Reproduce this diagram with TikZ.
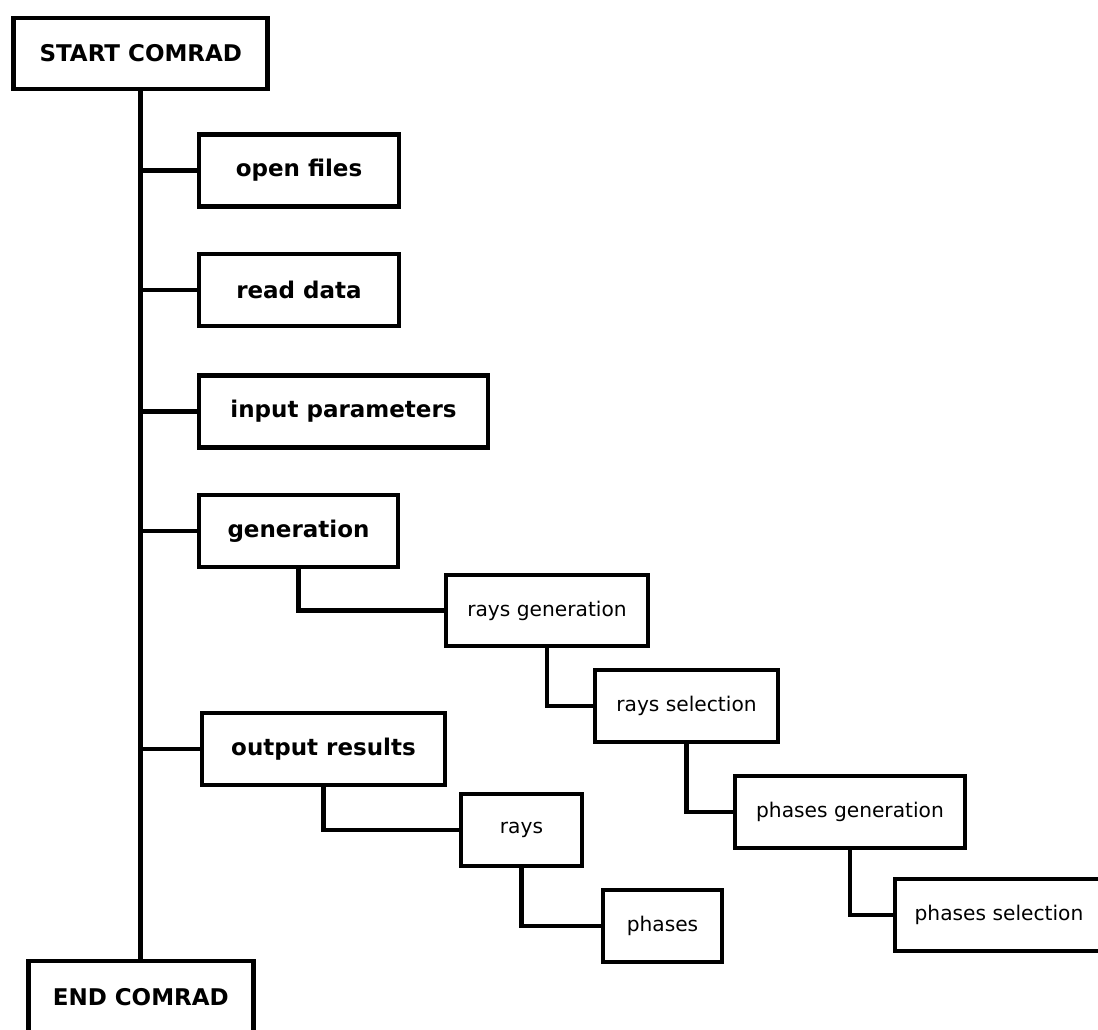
\documentclass[tikz,border=0pt]{standalone}
\usepackage{fontspec}
\setmainfont{DejaVu Sans}
\begin{document}
\begin{tikzpicture}[x=1pt,y=-1pt,
  box/.style={draw=black,line width=4.7pt,fill=white,rectangle,inner sep=0pt,
    minimum height=72pt},
  mainbox/.style={box,font=\bfseries\fontsize{23}{27}\selectfont},
  subbox/.style={box,font=\fontsize{20.2}{24}\selectfont},
  link/.style={draw=black,line width=4.7pt}]
\useasboundingbox (0,0) rectangle (1098,1030);
\fill[white] (0,0) rectangle (1098,1030);
% main boxes
\node[mainbox,minimum width=254pt,minimum height=71pt] (start) at (140.8,53.5) {START COMRAD};
\node[mainbox,minimum width=200pt] (open) at (299,170.5) {open files};
\node[mainbox,minimum width=200pt] (read) at (299,290) {read data};
\node[mainbox,minimum width=289pt] (input) at (343.5,411.5) {input parameters};
\node[mainbox,minimum width=199pt] (gen) at (298.5,531) {generation};
\node[mainbox,minimum width=243pt] (output) at (323.5,749) {output results};
\node[mainbox,minimum width=225pt] (end) at (140.8,997) {END COMRAD};
% sub boxes
\node[subbox,minimum width=202pt,minimum height=71pt] (raysgen) at (547,610.5) {rays generation};
\node[subbox,minimum width=183pt] (raysel) at (686.5,706) {rays selection};
\node[subbox,minimum width=230pt] (phgen) at (850,812) {phases generation};
\node[subbox,minimum width=208pt] (phsel) at (999,915) {phases selection};
\node[subbox,minimum width=121pt] (rays) at (521.5,830) {rays};
\node[subbox,minimum width=119pt] (phases) at (662.5,926) {phases};
% trunk
\draw[link] (start.south) -- (end.north);
\foreach \n in {open,read,input,gen,output}
  \draw[link] (start.south |- \n.west) -- (\n.west);
% sub connectors
\draw[link] (gen.south) |- (raysgen.west);
\draw[link] (raysgen.south) |- (raysel.west);
\draw[link] (raysel.south) |- (phgen.west);
\draw[link] (phgen.south) |- (phsel.west);
\draw[link] (output.south) |- (rays.west);
\draw[link] (rays.south) |- (phases.west);
\end{tikzpicture}
\end{document}
